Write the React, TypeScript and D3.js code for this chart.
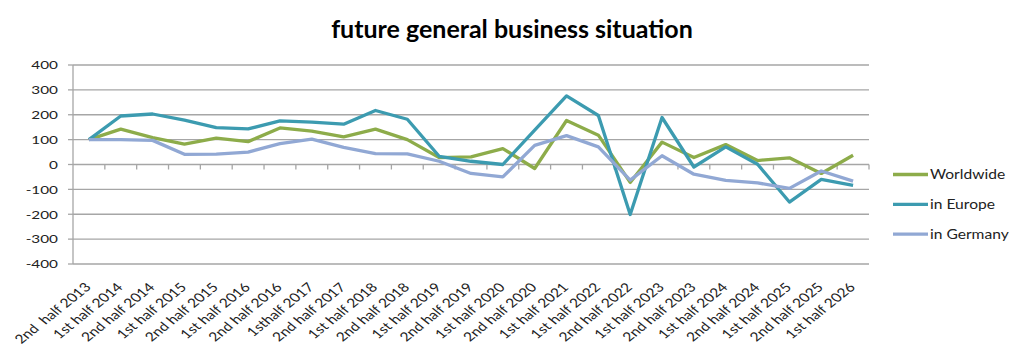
import React from "react";
import * as d3 from "d3";

const categories = [
  "2nd  half 2013", "1st half 2014", "2nd half 2014", "1st half 2015", "2nd half 2015",
  "1st half 2016", "2nd half 2016", "1sthalf 2017", "2nd half 2017", "1st half 2018",
  "2nd half 2018", "1st half 2019", "2nd half 2019", "1st half 2020", "2nd half 2020",
  "1st half 2021", "1st half 2022", "2nd half 2022", "1st half 2023", "2nd half 2023",
  "1st half 2024", "2nd half 2024", "1st half 2025", "2nd half 2025", "1st half 2026",
];

const worldwide = [100, 142, 108, 82, 106, 92, 147, 134, 111, 142, 100, 28, 31, 64, -16, 177, 118, -72, 90, 28, 80, 16, 27, -36, 37];
const europe = [100, 195, 203, 178, 148, 143, 175, 170, 162, 217, 182, 33, 13, 0, 138, 276, 197, -201, 189, -10, 71, 1, -151, -60, -84];
const germany = [100, 100, 97, 41, 42, 50, 84, 102, 69, 44, 43, 13, -36, -50, 77, 116, 71, -63, 35, -39, -64, -74, -96, -26, -67];

const yTicks = [400, 300, 200, 100, 0, -100, -200, -300, -400];

const series = [
  { name: "Worldwide", values: worldwide, color: "#8DAC4A" },
  { name: "in Europe", values: europe, color: "#3C9BB0" },
  { name: "in Germany", values: germany, color: "#91A8D4" },
];

const FONT = "Lato, 'Open Sans', sans-serif";

export default function App() {
  const W = 1024, H = 362;
  const left = 73, right = 869, top = 65, bottom = 264;
  const x = d3.scaleBand<string>().domain(categories).range([left, right]).paddingInner(0).paddingOuter(0);
  const y = d3.scaleLinear().domain([-400, 400]).range([bottom, top]);
  const cx = (i: number) => (x(categories[i]) as number) + x.bandwidth() / 2;
  const line = d3.line<number>().x((_, i) => cx(i)).y((d) => y(d));
  const y0 = y(0);
  const SX = 1.25;

  return (
    <svg width={W} height={H} style={{ display: "block", position: "absolute", left: 0, top: 0 }} fontFamily={FONT}>
      <rect width={W} height={H} fill="#fff" />
      <text x={512} y={38} textAnchor="middle" fontSize={25} fontWeight={700} fill="#000">
        future general business situation
      </text>
      {yTicks.map((t) => (
        <g key={t}>
          <line x1={left} x2={right} y1={y(t)} y2={y(t)} stroke="#A6A6A6" strokeWidth={1.3} />
          <line x1={left - 5} x2={left} y1={y(t)} y2={y(t)} stroke="#A6A6A6" strokeWidth={1.3} />
          <text transform={`translate(58,${y(t)}) scale(1.3,1)`} dy="0.36em" textAnchor="end" fontSize={11.8} fill="#222">
            {t}
          </text>
        </g>
      ))}
      <line x1={left} x2={left} y1={top} y2={bottom} stroke="#A6A6A6" strokeWidth={1.3} />
      {categories.map((c, i) => (
        <line key={"t" + i} x1={(x(c) as number) + x.bandwidth()} x2={(x(c) as number) + x.bandwidth()} y1={y0} y2={y0 + 5} stroke="#A6A6A6" strokeWidth={1.3} />
      ))}
      {series.map((s) => (
        <path key={s.name} d={line(s.values) || ""} fill="none" stroke={s.color} strokeWidth={3.3} strokeLinejoin="round" />
      ))}
      {categories.map((c, i) => (
        <text
          key={"l" + i}
          transform={`translate(${cx(i) + 3},${bottom + 24}) scale(${SX},1) rotate(-45)`}
          textAnchor="end"
          fontSize={12.5}
          fill="#222"
          style={{ whiteSpace: "pre" }}
        >
          {c}
        </text>
      ))}
      {series.map((s, k) => (
        <g key={"lg" + k}>
          <line x1={893} x2={928} y1={174.5 + k * 29.8} y2={174.5 + k * 29.8} stroke={s.color} strokeWidth={3.3} />
          <text transform={`translate(930,${174.5 + k * 29.8}) scale(1.2,1)`} dy="0.36em" fontSize={13} fill="#222">
            {s.name}
          </text>
        </g>
      ))}
    </svg>
  );
}
